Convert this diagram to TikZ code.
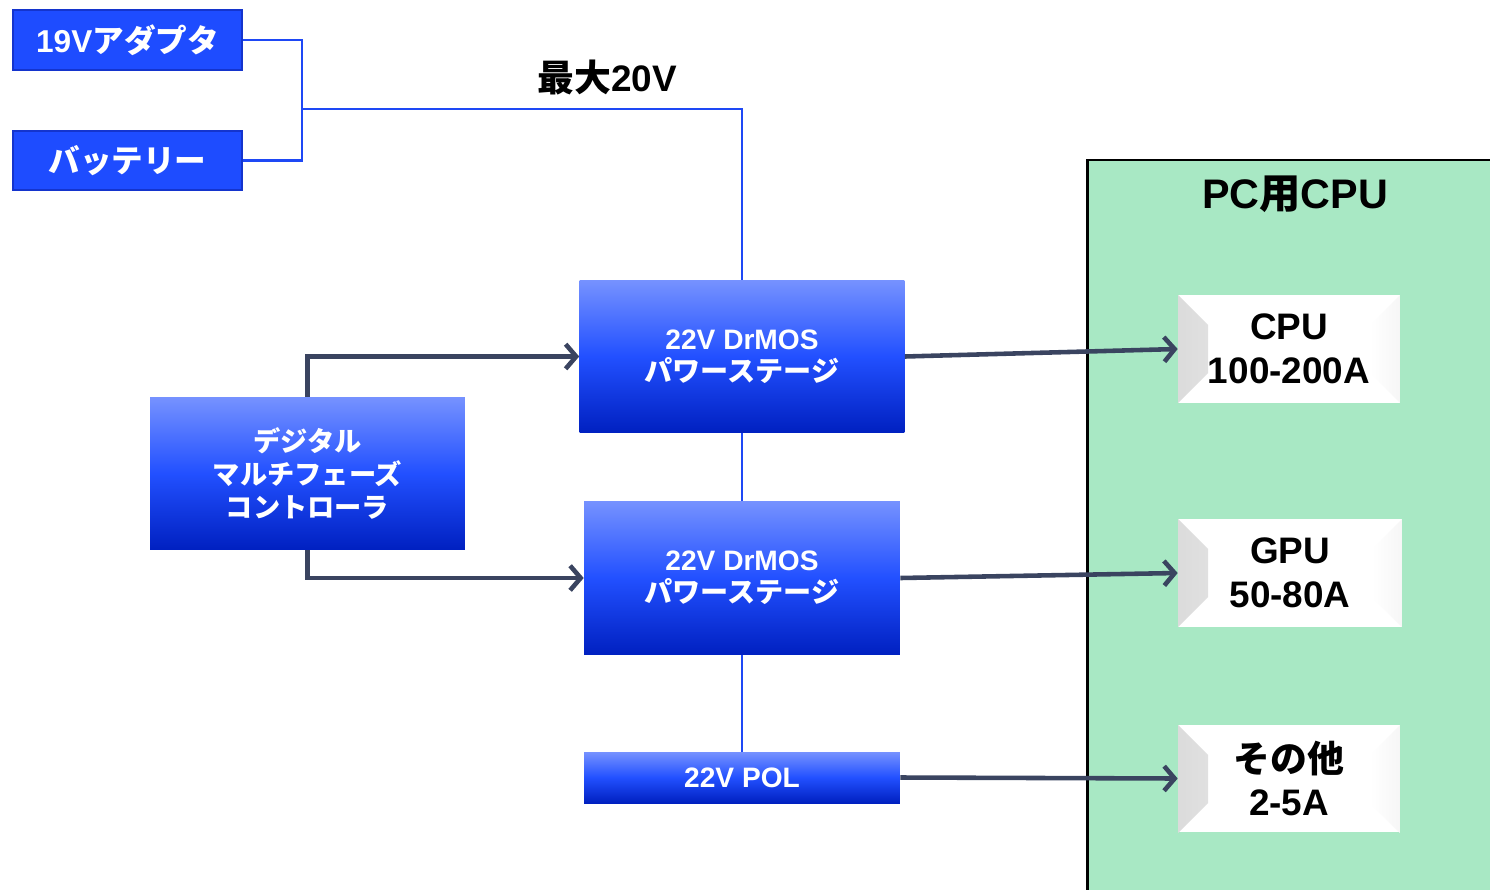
\documentclass[tikz,border=0pt]{standalone}
\usepackage{fontspec}
\setmainfont{Liberation Sans}
\newfontfamily\jp{Noto Sans CJK JP}
\usetikzlibrary{arrows.meta,positioning}
\definecolor{srcfill}{RGB}{30,76,255}
\definecolor{srcedge}{RGB}{20,52,205}
\definecolor{feedblue}{RGB}{30,72,245}
\definecolor{gtop}{RGB}{118,146,255}
\definecolor{gmid}{RGB}{34,80,255}
\definecolor{gbot}{RGB}{0,32,192}
\definecolor{arrowgray}{RGB}{58,68,96}
\definecolor{panelgreen}{RGB}{168,232,196}
\tikzset{
	srcbox/.style = {
		draw=srcedge,
		line width=1.2pt,
		fill=srcfill,
		text=white,
		font=\bfseries\fontsize{18}{21}\selectfont,
		minimum width=4.58cm,
		minimum height=1.2cm,
		inner sep=0pt
	},
	stage/.style = {
		top color=gtop,
		bottom color=gbot,
		middle color=gmid,
		text=white,
		font=\bfseries\fontsize{16}{18}\selectfont,
		align=center,
		inner sep=0pt
	},
	feed/.style = {
		draw=feedblue,
		line width=1.6pt
	},
	signal/.style = {
		draw=arrowgray,
		line width=2.6pt,
		-{Straight Barb[length=6pt,width=14pt]}
	},
	loadbox/.style = {
		fill=white,
		font=\bfseries\fontsize{21}{25}\selectfont,
		align=center,
		minimum width=4.44cm,
		minimum height=2.16cm,
		inner sep=0pt,
		path picture={
			\shade[left color=gray!28, right color=white]
			(path picture bounding box.north west) -- ++(0.6cm,-0.6cm)
			-- ++(0,-0.96cm) -- ++(-0.6cm,-0.6cm) -- cycle;
			\shade[right color=gray!7, left color=white]
			(path picture bounding box.north east) -- ++(-0.6cm,-0.6cm)
			-- ++(0,-0.96cm) -- ++(0.6cm,-0.6cm) -- cycle;
		}
	}
}
\begin{document}
\begin{tikzpicture}[x=0.02cm, y=-0.02cm]
	\useasboundingbox (0,0) rectangle (1490,889);
	
	% --- panel on the right ---
	\draw[fill=panelgreen, line width=1.7pt] (1087,160) rectangle (1520,920);
	\node[font=\bfseries\fontsize{23.5}{26}\selectfont] (title) at (1295,194) {PC{\jp 用}CPU};
	
	% --- sources ---
	\node[srcbox] (adapter) at (127.5,40) {19V{\jp アダプタ}};
	\node[srcbox, minimum height=1.18cm] (battery) at (127.5,160.5) {\jp バッテリー};
	\coordinate (join) at (302,109);
	\node[font=\bfseries\fontsize{21}{24}\selectfont] (vmax) at (607,78) {{\jp 最大}20V};
	
	% --- stages ---
	\node[stage, minimum width=6.5cm, minimum height=3.06cm] (drmos1) at (742,356.5)
		{22V DrMOS\\{\jp パワーステージ}};
	\node[stage, minimum width=6.32cm, minimum height=3.08cm] (drmos2) at (742,578)
		{22V DrMOS\\{\jp パワーステージ}};
	\node[stage, minimum width=6.32cm, minimum height=1.02cm] (pol) at (742,777.5)
		{22V POL};
	\node[stage, font=\bfseries\fontsize{15.5}{19}\selectfont, minimum width=6.3cm, minimum height=3.06cm] (ctrl) at (307.5,473.5)
		{\jp デジタル\\\jp マルチフェーズ\\\jp コントローラ};
	
	% --- loads ---
	\node[loadbox] (cpubox) at (1289,349) {CPU\\100-200A};
	\node[loadbox, minimum width=4.48cm] (gpubox) at (1290,573) {GPU\\50-80A};
	\node[loadbox, minimum height=2.14cm] (otherbox) at (1289,778.5) {{\jp その他}\\2-5A};
	
	% --- supply lines ---
	\draw[feed] (adapter.east) -| (join);
	\draw[feed] (battery.east) -| (join);
	\draw[feed] (join) -| (drmos1.north);
	\draw[feed] (drmos1.south) -- (drmos2.north);
	\draw[feed] (drmos2.south) -- (pol.north);
	
	% --- control and outputs ---
	\draw[signal] (ctrl.north) |- (drmos1.west);
	\draw[signal] (ctrl.south) |- (drmos2.west);
	\draw[signal] (drmos1.east) -- (cpubox.west);
	\draw[signal] (drmos2.east) -- (gpubox.west);
	\draw[signal] (pol.east) -- (otherbox.west);
\end{tikzpicture}
\end{document}
